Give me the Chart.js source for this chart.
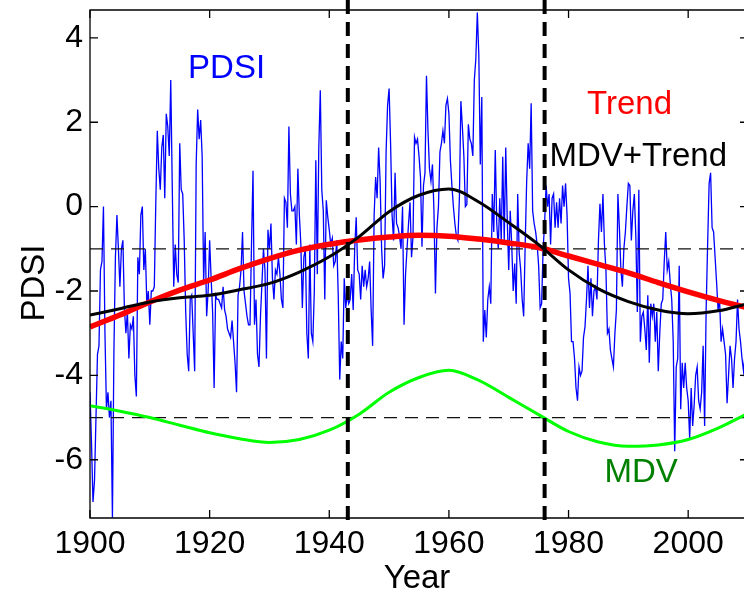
<!DOCTYPE html>
<html>
<head>
<meta charset="utf-8">
<script src="https://cdn.jsdelivr.net/npm/chart.js@4.4.1/dist/chart.umd.min.js"></script>
<style>
  html, body { margin: 0; padding: 0; background: #fff; overflow: hidden; }
  #wrap { width: 750px; height: 590px; }
</style>
</head>
<body>
<div id="wrap"><canvas id="pdsiChart" width="750" height="590"></canvas></div>
<script>
// Quarterly PDSI, starting 1900
const pdsiStart = 1900;
const pdsiStep = 0.25;
const pdsiValues = [
  -4.4, -5.6, -7.0, -6.5,   // 1900
  -5.0, -3.5, -3.3, -1.5,
  -1.3, 0.0, -3.0, -4.8,
  -4.4, -5.0, -4.6, -7.4,
  -3.4, -1.2, -0.2, -1.0,
  -1.9, -1.0, -0.8, -2.4,   // 1905
  -3.0, -2.5, -3.6, -2.8,
  -2.9, -2.6, -4.0, -4.5,
  -1.2, -1.6, -0.2, 0.0,
  -1.5, -1.0, -2.3, -2.0,
  -2.8, -2.0, -2.0, -1.9,   // 1910
  0.1, 1.8, 0.9, 0.4,
  1.4, 1.7, 0.2, 2.2,
  1.9, 1.2, 3.0, 0.5,
  -1.9, -0.9, -1.6, -1.8,
  1.5, 0.4, 0.3, -0.8,      // 1915
  -2.5, -3.5, -3.9, -2.2,
  -2.1, -3.0, -3.9, 1.0,
  2.3, 1.6, 2.05, 1.2,
  -1.8, -0.6, -2.6, -2.0,
  -0.8, -1.7, -2.5, -4.3,   // 1920
  -2.1, -2.2, -2.2, -2.3,
  -2.4, -1.9, -2.45, -2.6,
  -2.9, -3.0, -3.1, -2.7,
  -3.2, -3.7, -4.4, -2.1,
  -1.9, -1.5, -0.6, -2.0,   // 1925
  -2.3, -2.6, -2.8, -2.8,
  -0.9, 0.85, -2.8, -2.2,
  -3.5, -3.8, -2.6, -1.8,
  -1.0, -1.5, -3.6, -0.55,
  -1.0, -0.4, -1.7, -2.2,   // 1930
  -1.5, -1.6, -1.2, -1.6,
  -2.2, -2.4, 0.2, 0.1,
  -0.5, 1.9, 0.3, -0.1,
  -0.1, 0.0, -0.9, 0.9,
  -0.2, -0.9, -2.4, -1.2,   // 1935
  -1.0, -3.0, -3.6, -0.9,
  -3.0, -3.2, -2.0, 1.1,
  -1.6, 1.4, 2.76, 0.4,
  -0.1, -2.2, 0.15, -0.25,
  -0.55, -0.9, -0.75, -1.4, // 1940
  -1.3, -0.8, -2.1, -4.1,
  -3.2, -3.6, -1.7, -2.4,
  -2.1, -2.3, -2.2, -1.6,
  -2.45, -1.0, -0.25, -1.5,
  -1.6, -2.2, -1.4, -1.9,   // 1945
  -1.5, -1.9, -1.7, -1.3,
  -2.45, -3.3, -0.2, 0.7,
  0.2, 1.4, 0.6, -1.0,
  -1.7, -1.4, 1.3, 2.4,
  2.8, 1.5, -0.2, -0.8,     // 1950
  0.8, -0.4, -0.5, -0.7,
  -1.0, 0.0, -2.8, -1.6,
  -1.0, -0.4, 0.1, -1.2,
  -0.7, 1.65, 1.5, 1.6,
  1.2, 0.7, -0.95, 0.5,     // 1955
  0.8, 3.1, 1.8, 0.9,
  0.6, 1.0, -0.1, -2.06,
  -0.5, 0.0, 1.3, 1.5,
  1.8, 1.5, 2.4, 2.56,
  2.2, 1.1, 0.5, 0.0,       // 1960
  -0.4, -0.7, -0.8, 0.2,
  2.5, 1.9, 1.2, 0.0,
  0.05, 1.95, 1.6, 1.5,
  1.2, 3.0, 3.5, 4.6,
  3.6, 1.0, 2.6, -3.2,      // 1965
  -2.45, -3.1, -2.2, -1.9,
  -2.3, 0.3, -0.6, 1.34,
  -0.4, -1.0, 0.2, -0.8,
  1.18, -0.8, 1.4, -0.3,
  -1.5, -0.1, -0.9, -2.0,   // 1970
  -1.35, -2.3, 0.3, -1.1,
  -1.5, -2.2, -2.6, -0.9,
  0.6, 1.5, 0.9, 2.45,
  -0.1, -0.4, -0.6, -0.9,
  -1.4, -2.4, -2.3, -1.0,   // 1975
  -0.4, 0.5, 0.0, 0.3,
  -0.9, 0.2, 0.3, -0.5,
  0.1, -0.5, 0.2, -0.4,
  0.5, 0.0, 0.55, -0.2,
  -1.7, -2.05, -3.2, -3.2,  // 1980
  -3.6, -4.3, -4.6, -3.8,
  -4.0, -3.9, -3.1, -2.85,
  -2.2, -1.4, -2.4, -1.7,
  -2.6, -2.0, -1.9, -2.2,
  -0.8, 0.07, -0.6, 0.3,    // 1985
  -0.9, -1.5, -3.0, -2.9,
  -3.4, -3.6, -3.8, -3.0,
  -2.45, 0.3, -0.5, -1.5,
  -1.9, -1.0, -0.6, 0.0,
  0.55, 0.5, -0.8, -0.1,    // 1990
  0.3, -0.7, -2.5, 0.4,
  -3.2, -2.6, -2.5, -2.9,
  -3.4, -2.1, -3.7, -2.3,
  -2.6, -2.3, -3.2, -2.5,
  -3.9, -3.0, -2.3, -2.2,   // 1995
  -1.3, -0.6, -1.5, -1.3,
  -1.8, -2.2, -3.2, -5.8,
  -3.8, -3.6, -1.4, -4.8,
  -3.7, -4.3, -3.7, -4.3,
  -4.6, -5.5, -4.3, -5.2,   // 2000
  -4.7, -4.0, -3.8, -4.6,
  -4.8, -4.4, -3.3, -5.2,
  -2.45, -0.9, 0.55, 0.8,
  -0.5, -0.6, -1.2, -1.8,
  -2.45, -2.2, -3.2, -2.9,  // 2005
  -3.2, -3.5, -4.66, -4.0,
  -3.3, -3.6, -4.3, -3.6,
  -3.2, -2.2, -2.9, -3.2,
  -3.6, -3.9, -3.5, -3.0
];

// Smooth components, every 5 years
const curveYears = [1900, 1905, 1910, 1915, 1920, 1925, 1930, 1935, 1940, 1945, 1950, 1955,
                    1960, 1965, 1970, 1975, 1980, 1985, 1990, 1995, 2000, 2005, 2010];
const trendValues = [-2.85, -2.57, -2.26, -1.98, -1.74, -1.47, -1.23, -1.03, -0.89, -0.79, -0.72, -0.68,
                     -0.70, -0.77, -0.86, -0.97, -1.17, -1.37, -1.57, -1.80, -2.02, -2.22, -2.40];
const mdvTrendValues = [-2.57, -2.42, -2.26, -2.16, -2.10, -1.97, -1.82, -1.55, -1.19, -0.71, -0.12, 0.27,
                        0.42, 0.11, -0.38, -0.90, -1.50, -1.95, -2.25, -2.45, -2.54, -2.47, -2.30];
const mdvValues = [-4.72, -4.85, -5.00, -5.18, -5.36, -5.50, -5.59, -5.52, -5.30, -4.92, -4.40, -4.05,
                   -3.88, -4.12, -4.52, -4.93, -5.33, -5.58, -5.68, -5.65, -5.52, -5.25, -4.90];

const refLevels = [-1, -5];
const markerYears = [1943.1, 1976];
const xTicks = [1900, 1920, 1940, 1960, 1980, 2000];
const yTicks = [-6, -4, -2, 0, 2, 4];

const FONT = '"Liberation Sans", Arial, Helvetica, sans-serif';

// In-plot labels, placed in data coordinates (left edge, baseline)
const seriesLabels = [
  { text: 'PDSI', color: '#0000ff', year: 1916.4, value: 3.05 },
  { text: 'Trend', color: '#ff0000', year: 1983.1, value: 2.19 },
  { text: 'MDV+Trend', color: '#000000', year: 1976.8, value: 0.96 },
  { text: 'MDV', color: '#008000', year: 1986.0, value: -6.53 }
];

function toPoints(years, values) {
  return values.map((v, i) => ({ x: years[i], y: v }));
}

const pdsiPoints = pdsiValues.map((v, i) => ({ x: pdsiStart + i * pdsiStep, y: v }));

// Frame, inward ticks, marker lines, labels
const decorPlugin = {
  id: 'decor',
  afterDatasetsDraw(chart) {
    const { ctx, chartArea: a, scales: { x, y } } = chart;
    ctx.save();

    // thick dashed year markers, running past the axes
    ctx.strokeStyle = '#000';
    ctx.lineWidth = 4;
    ctx.setLineDash([14, 8]);
    markerYears.forEach(yr => {
      const px = x.getPixelForValue(yr);
      ctx.beginPath();
      ctx.moveTo(px, 0);
      ctx.lineTo(px, a.bottom + 6);
      ctx.stroke();
    });
    ctx.setLineDash([]);

    // box
    ctx.lineWidth = 1.3;
    ctx.beginPath();
    ctx.moveTo(a.right, a.top);
    ctx.lineTo(a.left, a.top);
    ctx.lineTo(a.left, a.bottom);
    ctx.lineTo(a.right, a.bottom);
    ctx.stroke();

    const tl = 8;
    ctx.beginPath();
    xTicks.forEach(v => {
      const px = x.getPixelForValue(v);
      ctx.moveTo(px, a.top); ctx.lineTo(px, a.top + tl);
      ctx.moveTo(px, a.bottom); ctx.lineTo(px, a.bottom - tl);
    });
    yTicks.forEach(v => {
      const py = y.getPixelForValue(v);
      ctx.moveTo(a.left, py); ctx.lineTo(a.left + tl, py);
      ctx.moveTo(a.right, py); ctx.lineTo(a.right - tl, py);
    });
    ctx.stroke();

    // series labels
    ctx.font = '33px ' + FONT;
    ctx.textAlign = 'left';
    ctx.textBaseline = 'alphabetic';
    seriesLabels.forEach(l => {
      ctx.fillStyle = l.color;
      ctx.fillText(l.text, x.getPixelForValue(l.year), y.getPixelForValue(l.value));
    });

    // axis titles
    ctx.fillStyle = '#000';
    ctx.textAlign = 'center';
    ctx.fillText('Year', (a.left + 744) / 2, 588);
    ctx.translate(44, 283);
    ctx.rotate(-Math.PI / 2);
    ctx.fillText('PDSI', 0, 0);

    ctx.restore();
  }
};

const refDatasets = refLevels.map(level => ({
  label: 'ref ' + level,
  data: [{ x: 1900, y: level }, { x: 2010, y: level }],
  borderColor: '#111',
  borderWidth: 1.2,
  borderDash: [13, 8],
  pointRadius: 0,
  order: 4
}));

new Chart(document.getElementById('pdsiChart'), {
  type: 'line',
  data: {
    datasets: [
      {
        label: 'MDV+Trend',
        data: toPoints(curveYears, mdvTrendValues),
        borderColor: '#000000',
        borderWidth: 3,
        pointRadius: 0,
        cubicInterpolationMode: 'monotone',
        order: 1
      },
      {
        label: 'Trend',
        data: toPoints(curveYears, trendValues),
        borderColor: '#ff0000',
        borderWidth: 5.5,
        pointRadius: 0,
        cubicInterpolationMode: 'monotone',
        order: 2
      },
      {
        label: 'MDV',
        data: toPoints(curveYears, mdvValues),
        borderColor: '#00ff00',
        borderWidth: 3,
        pointRadius: 0,
        cubicInterpolationMode: 'monotone',
        order: 3
      },
      ...refDatasets,
      {
        label: 'PDSI',
        data: pdsiPoints,
        borderColor: '#0000ff',
        borderWidth: 1.3,
        pointRadius: 0,
        tension: 0,
        order: 5
      }
    ]
  },
  options: {
    responsive: false,
    animation: false,
    devicePixelRatio: 1,
    layout: { padding: { top: 10, right: 2, bottom: 0, left: 0 } },
    plugins: { legend: { display: false }, tooltip: { enabled: false } },
    scales: {
      x: {
        type: 'linear',
        min: 1900,
        max: 2010,
        afterBuildTicks: s => { s.ticks = xTicks.map(value => ({ value })); },
        afterFit: s => {
          s.height = 72;
          s.paddingLeft = 0; s.paddingRight = 0;
        },
        grid: { display: false, drawTicks: false },
        border: { display: false },
        ticks: {
          color: '#000',
          font: { family: FONT, size: 32 },
          padding: 7,
          maxRotation: 0,
          autoSkip: false,
          callback: v => String(v)
        }
      },
      y: {
        type: 'linear',
        min: -7.38,
        max: 4.66,
        afterBuildTicks: s => { s.ticks = yTicks.map(value => ({ value })); },
        afterFit: s => {
          s.width = 90;
          s.paddingTop = 0; s.paddingBottom = 0;
        },
        grid: { display: false, drawTicks: false },
        border: { display: false },
        ticks: {
          color: '#000',
          font: { family: FONT, size: 32 },
          padding: 7,
          callback: v => String(v)
        }
      }
    }
  },
  plugins: [decorPlugin]
});
</script>
</body>
</html>
